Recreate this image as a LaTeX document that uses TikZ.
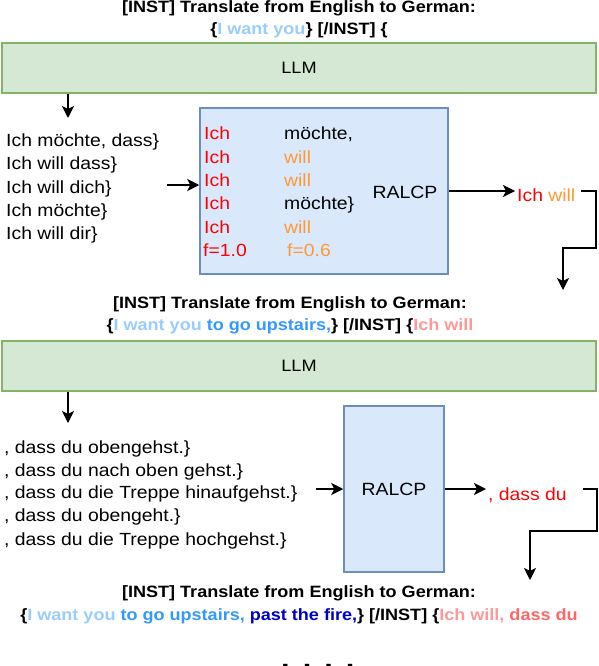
\documentclass[tikz,border=0pt]{standalone}
\usepackage{fontspec}
\setmainfont{Liberation Sans}[FakeStretch=1.1]
\usetikzlibrary{arrows.meta}
\definecolor{llmfill}{HTML}{D5E8D4}
\definecolor{llmline}{HTML}{82B366}
\definecolor{rfill}{HTML}{DAE8FC}
\definecolor{rline}{HTML}{6C8EBF}
\definecolor{lblue}{HTML}{99CCFF}
\definecolor{mblue}{HTML}{3399FF}
\definecolor{dblue}{HTML}{0000CC}
\definecolor{pinkc}{HTML}{FF9999}
\definecolor{redb}{HTML}{FF6666}
\definecolor{redc}{HTML}{FF0000}
\definecolor{orangec}{HTML}{FF9933}
\newcommand\titlefont{\bfseries\fontsize{16.4}{19}\selectfont}
\newcommand\bodyfont{\fontsize{17.6}{21}\selectfont}
\newcommand\llmfont{\fontsize{16.5}{19}\selectfont}
\newcommand\ralcpfont{\fontsize{17.7}{21}\selectfont}
\begin{document}
\begin{tikzpicture}[x=1pt,y=-1pt,
  title/.style={font=\titlefont, inner sep=0pt, anchor=mid},
  txt/.style={font=\bodyfont, inner sep=0pt, anchor=mid west},
  llm/.style={draw=llmline, fill=llmfill, line width=1.5pt, minimum width=594pt, minimum height=50pt, font=\llmfont, inner sep=0pt},
  ralcp/.style={draw=rline, fill=rfill, line width=1.5pt, inner sep=0pt, font=\ralcpfont},
  arr/.style={-{Stealth[length=12pt,width=12pt,inset=3pt]}, line width=1.6pt}]
\useasboundingbox (0,0) rectangle (598,666);

% ---------- block 1
\node[title] (t1a) at (299,10) {[INST] Translate from English to German:};
\node[title] (t1b) at (299,32) {\{\textcolor{lblue}{I want you}\} [/INST] \{};
\node[llm] (llm1) at (299,68) {LLM};
\coordinate (a1e) at (68,118);
\draw[arr] (llm1.south -| a1e) -- (a1e);

\node[txt] (c11) at (6,144) {Ich möchte, dass\}};
\node[txt] (c12) at (6,167) {Ich will dass\}};
\node[txt] (c13) at (6,191) {Ich will dich\}};
\node[txt] (c14) at (6,214) {Ich möchte\}};
\node[txt] (c15) at (6,237) {Ich will dir\}};

\node[ralcp, minimum width=248pt, minimum height=166pt] (box1) at (324,191) {};
\node[txt, text=redc] (b1a) at (204,137) {Ich};
\node[txt, text=redc] (b1b) at (204,160.4) {Ich};
\node[txt, text=redc] (b1c) at (204,183.8) {Ich};
\node[txt, text=redc] (b1d) at (204,207.2) {Ich};
\node[txt, text=redc] (b1e) at (204,230.6) {Ich};
\node[txt, text=redc] (b1f) at (203,254) {f=1.0};
\node[txt] (b2a) at (284,137) {möchte,};
\node[txt, text=orangec] (b2b) at (284,160.4) {will};
\node[txt, text=orangec] (b2c) at (284,183.8) {will};
\node[txt] (b2d) at (284,207.2) {möchte\}};
\node[txt, text=orangec] (b2e) at (284,230.6) {will};
\node[txt, text=orangec] (b2f) at (287,254) {f=0.6};
\node[font=\ralcpfont, inner sep=0pt] (r1) at (405,192) {RALCP};

\coordinate (in1) at (167,185);
\draw[arr] (in1) -- (in1 -| box1.west);

\node[txt, inner sep=2pt] (out1) at (515,199) {\textcolor{redc}{Ich} \textcolor{orangec}{will}};
\coordinate (o1) at (448,191);
\draw[arr] (box1.east |- o1) -- (out1.west |- o1);
\coordinate (e1) at (563,290);
\draw[arr] ([xshift=4pt]out1.east |- o1) -- (596,191) -- (596,248) -- (563,248) -- (e1);

% ---------- block 2
\node[title] (t2a) at (290,306) {[INST] Translate from English to German:};
\node[title] (t2b) at (290,328) {\{\textcolor{lblue}{I want you} \textcolor{mblue}{to go upstairs,}\} [/INST] \{\textcolor{pinkc}{Ich will}};
\node[llm] (llm2) at (299,366) {LLM};
\coordinate (a2e) at (68,423);
\draw[arr] (llm2.south -| a2e) -- (a2e);

\node[txt] (c21) at (4,451) {, dass du obengehst.\}};
\node[txt] (c22) at (4,474) {, dass du nach oben gehst.\}};
\node[txt] (c23) at (4,496) {, dass du die Treppe hinaufgehst.\}};
\node[txt] (c24) at (4,519) {, dass du obengeht.\}};
\node[txt] (c25) at (4,543) {, dass du die Treppe hochgehst.\}};

\node[ralcp, minimum width=100pt, minimum height=166pt] (box2) at (394,489) {RALCP};
\coordinate (in2) at (316,489);
\draw[arr] (in2) -- (in2 -| box2.west);

\node[txt, inner sep=2pt, text=redc] (out2) at (486,498) {, dass du};
\draw[arr] (box2.east |- in2) -- (out2.west |- in2);
\coordinate (e2) at (530,580);
\draw[arr] ([xshift=14pt]out2.east |- in2) -- (597,489) -- (597,531) -- (530,531) -- (e2);

% ---------- block 3
\node[title] (t3a) at (299,595) {[INST] Translate from English to German:};
\node[title] (t3b) at (299,618) {\{\textcolor{lblue}{I want you} \textcolor{mblue}{to go upstairs,} \textcolor{dblue}{past the fire,}\} [/INST] \{\textcolor{pinkc}{Ich will,} \textcolor{redb}{dass du}};

\node[font=\bfseries\fontsize{28}{30}\selectfont, inner sep=0pt, anchor=base west] (dots) at (281,668) {.\hspace{13pt}.\hspace{13pt}.\hspace{13pt}.};
\end{tikzpicture}
\end{document}
